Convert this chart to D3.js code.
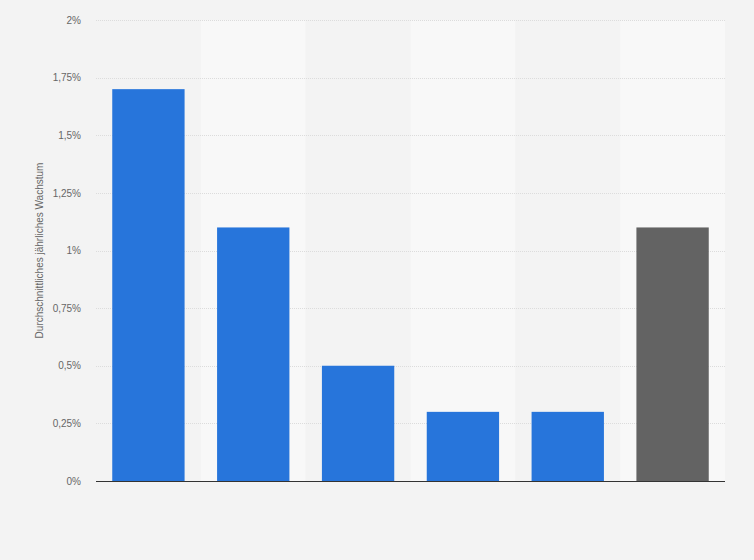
<!DOCTYPE html>
<html><head><meta charset="utf-8">
<script src="https://cdn.jsdelivr.net/npm/d3@7"></script>
<style>
html,body{margin:0;padding:0;background:#f3f3f3;}
svg{display:block;font-family:"Liberation Sans", Arial, sans-serif;}
</style></head>
<body>
<svg id="chart" width="754" height="560"></svg>
<script>
const categories = ["A","B","C","D","E","F"];
const values = [1.7, 1.1, 0.5, 0.3, 0.3, 1.1];
const barColors = ["#2775db","#2775db","#2775db","#2775db","#2775db","#636363"];
const yTicks = [0, 0.25, 0.5, 0.75, 1, 1.25, 1.5, 1.75, 2];
const yTickLabels = ["0%","0,25%","0,5%","0,75%","1%","1,25%","1,5%","1,75%","2%"];
const yTitle = "Durchschnittliches jährliches Wachstum";

const svg = d3.select("#chart");
const m = {left:96, right:29, top:20, bottom:79};
const W = 754, H = 560;
const x = d3.scaleBand().domain(categories).range([m.left, W - m.right]).paddingInner(0.31).paddingOuter(0.155);
const y = d3.scaleLinear().domain([0, 2]).range([H - m.bottom, m.top]);

// stripes
const step = x.step();
svg.append("g").selectAll("rect").data(categories).join("rect")
  .attr("x", d => x(d) - (step - x.bandwidth())/2)
  .attr("y", m.top)
  .attr("width", step)
  .attr("height", y(0) - m.top)
  .attr("fill", (d,i) => i % 2 ? "#f8f8f8" : "#f3f3f3");

// grid
svg.append("g").selectAll("line").data(yTicks.filter(t => t > 0)).join("line")
  .attr("x1", m.left).attr("x2", W - m.right)
  .attr("y1", d => Math.round(y(d)) + 0.5).attr("y2", d => Math.round(y(d)) + 0.5)
  .attr("stroke", "#dcdcdc").attr("stroke-dasharray", "1,1");

// y axis labels
const yAxis = d3.axisLeft(y).tickValues(yTicks).tickFormat((d,i) => yTickLabels[i]).tickSize(0).tickPadding(15);
const ya = svg.append("g").attr("transform", `translate(${m.left},0)`).call(yAxis);
ya.select(".domain").remove();
ya.selectAll("text").attr("fill", "#666").attr("font-size", "10px").attr("font-family", "'Liberation Sans', Arial, sans-serif");

// bars
svg.append("g").selectAll("rect").data(values).join("rect")
  .attr("x", (d,i) => x(categories[i]))
  .attr("y", d => y(d))
  .attr("width", x.bandwidth())
  .attr("height", d => y(0) - y(d))
  .attr("fill", (d,i) => barColors[i]);

// baseline
svg.append("line").attr("x1", m.left).attr("x2", W - m.right)
  .attr("y1", y(0) + 0.5).attr("y2", y(0) + 0.5)
  .attr("stroke", "#333").attr("stroke-width", 1.2);

// y title
svg.append("text")
  .attr("transform", `translate(43, ${(y(0)+y(2))/2}) rotate(-90)`)
  .attr("text-anchor", "middle")
  .attr("fill", "#666").attr("font-size", "10px")
  .text(yTitle);
</script>
</body></html>
